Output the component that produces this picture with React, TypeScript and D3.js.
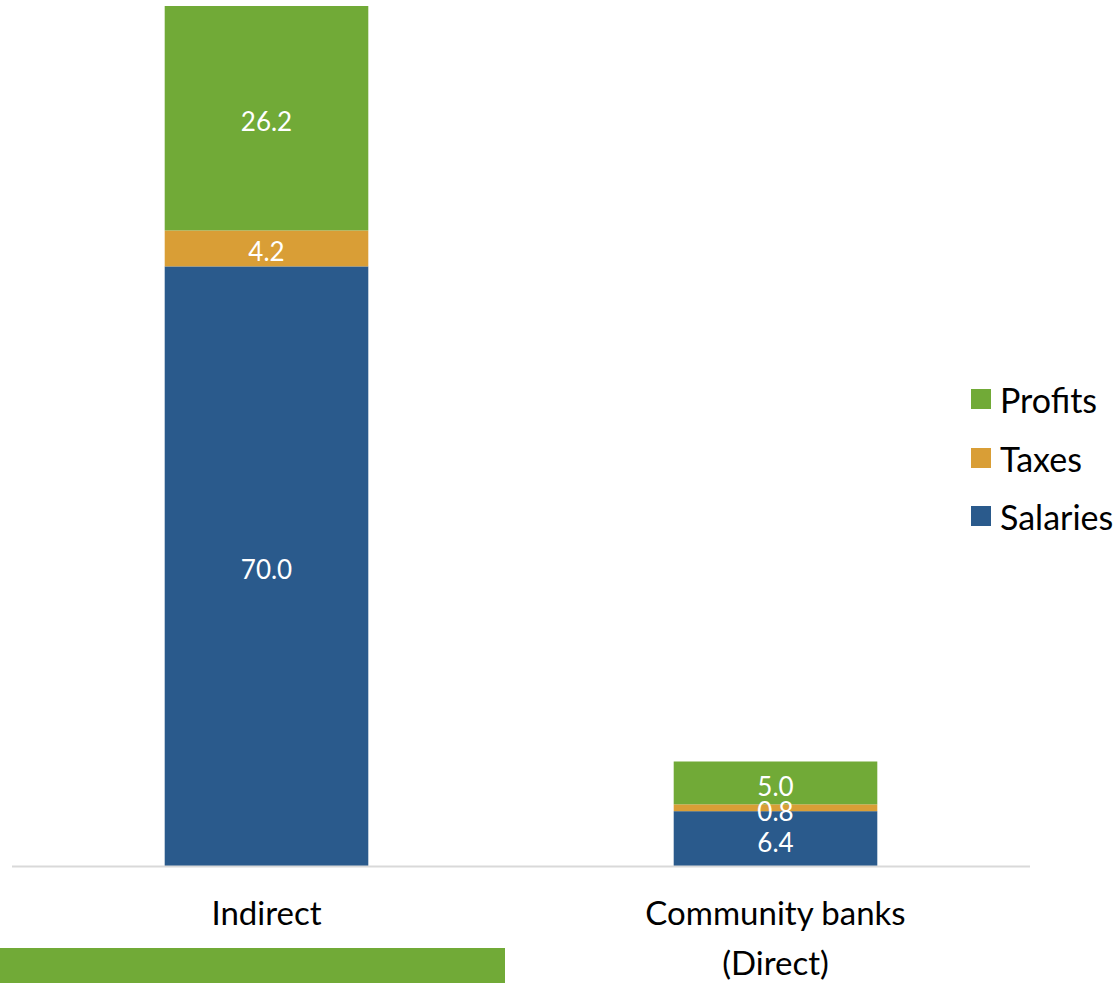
import React from "react";
import * as d3 from "d3";

const categories = ["Indirect", "Community banks (Direct)"];
const categoryLines = [["Indirect"], ["Community banks", "(Direct)"]];
const seriesNames = ["Salaries", "Taxes", "Profits"];
const salaries = [70.0, 6.4];
const taxes = [4.2, 0.8];
const profits = [26.2, 5.0];
const colors = ["#2A5A8C", "#D99E36", "#71AA37"];

const W = 1120;
const H = 983;
const FONT = "Lato, 'Open Sans', sans-serif";

export default function App() {
  const rows = categories.map((c, i) => ({
    cat: c,
    Salaries: salaries[i],
    Taxes: taxes[i],
    Profits: profits[i],
  }));
  const stack = d3.stack<any>().keys(seriesNames);
  const layers = stack(rows);
  const x = d3.scaleBand().domain(categories).range([12, 1030]).paddingInner(0.6).paddingOuter(0.3);
  const y = d3.scaleLinear().domain([0, 100.4]).range([866, 6]);

  const legendOrder = [2, 1, 0];
  const legendY = [399, 458, 516];

  return (
    <svg width={W} height={H} style={{ position: "absolute", left: 0, top: 0 }}>
      <rect x={0} y={0} width={W} height={H} fill="#fff" />
      {layers.map((layer, si) =>
        layer.map((d, i) => {
          const top = y(d[1]);
          const bot = y(d[0]);
          return (
            <g key={`${si}-${i}`}>
              <rect x={x(categories[i])} y={top} width={x.bandwidth()} height={bot - top} fill={colors[si]} />
            </g>
          );
        })
      )}
      {layers.map((layer, si) =>
        layer.map((d, i) => {
          const top = y(d[1]);
          const bot = y(d[0]);
          const v = d[1] - d[0];
          return (
            <text
              key={`t-${si}-${i}`}
              x={(x(categories[i]) as number) + x.bandwidth() / 2}
              y={(top + bot) / 2 + 3}
              textAnchor="middle"
              dominantBaseline="central"
              fill="#fff"
              fontFamily={FONT}
              fontSize={26}
            >
              {v.toFixed(1)}
            </text>
          );
        })
      )}
      <line x1={12} x2={1030} y1={866.5} y2={866.5} stroke="#D9D9D9" strokeWidth={2} />
      {categories.map((c, i) =>
        categoryLines[i].map((ln, li) => (
          <text
            key={`c-${i}-${li}`}
            x={(x(c) as number) + x.bandwidth() / 2}
            y={925 + li * 50}
            textAnchor="middle"
            fill="#000"
            fontFamily={FONT}
            fontSize={33}
          >
            {ln}
          </text>
        ))
      )}
      <rect x={0} y={948} width={505} height={35} fill="#71AA37" />
      {legendOrder.map((si, k) => (
        <g key={`l-${si}`}>
          <rect x={971} y={legendY[k] - 10} width={20} height={20} fill={colors[si]} />
          <text x={1000} y={legendY[k]} dominantBaseline="central" fill="#000" fontFamily={FONT} fontSize={34}>
            {seriesNames[si]}
          </text>
        </g>
      ))}
    </svg>
  );
}
